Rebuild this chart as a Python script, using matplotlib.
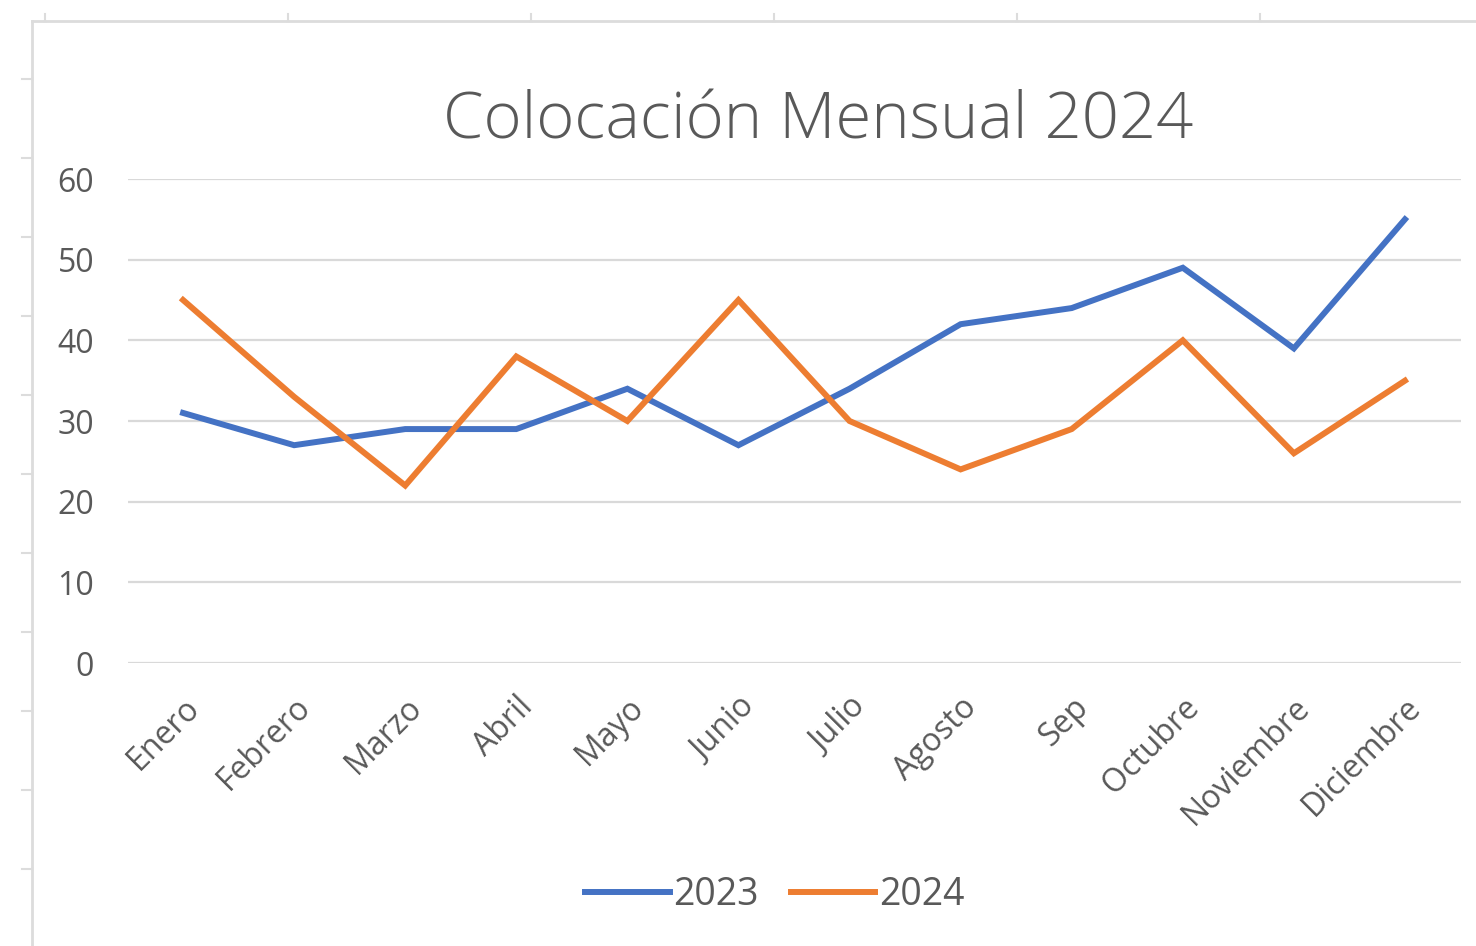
import matplotlib
matplotlib.use("Agg")
from matplotlib import pyplot as plt
from matplotlib.lines import Line2D

meses = ['Enero', 'Febrero', 'Marzo', 'Abril', 'Mayo', 'Junio', 'Julio',
         'Agosto', 'Sep', 'Octubre', 'Noviembre', 'Diciembre']
v2023 = [31, 27, 29, 29, 34, 27, 34, 42, 44, 49, 39, 55]
v2024 = [45, 33, 22, 38, 30, 45, 30, 24, 29, 40, 26, 35]
yticks = [0, 10, 20, 30, 40, 50, 60]

plt.rcParams['font.family'] = ['Open Sans', 'DejaVu Sans']
gris = '#595959'

fig = plt.figure(figsize=(14.76, 9.46), dpi=100)
W, H = 1476, 946

# marco de la hoja (captura de Excel)
fig.add_artist(Line2D([32 / W, 32 / W], [0, 1 - 21 / H], color='#dcdcdc', lw=2))
fig.add_artist(Line2D([32 / W, 1], [1 - 21 / H, 1 - 21 / H], color='#dcdcdc', lw=2))
for yy in range(79, 946, 79):
    fig.add_artist(Line2D([22 / W, 32 / W], [1 - yy / H, 1 - yy / H], color='#dcdcdc', lw=1.5))
for xx in range(45, 1476, 243):
    fig.add_artist(Line2D([xx / W, xx / W], [1 - 14 / H, 1 - 21 / H], color='#dcdcdc', lw=1.5))

ax = fig.add_axes([127.5 / W, 1 - 663 / H, (1460.5 - 127.5) / W, (663 - 179) / H])
x = range(len(meses))
ax.plot(x, v2023, color='#4472C4', lw=4.3, label='2023', solid_joinstyle='miter')
ax.plot(x, v2024, color='#ED7D31', lw=4.3, label='2024', solid_joinstyle='miter')

ax.set_xlim(-0.5, len(meses) - 0.5)
ax.set_ylim(0, 60)
ax.set_yticks(yticks)
ax.set_yticklabels([str(v) for v in yticks], fontsize=23, color=gris)
ax.set_xticks(list(x))
ax.set_xticklabels(meses, rotation=45, ha='right', rotation_mode='anchor',
                   fontsize=23, color=gris)
ax.tick_params(axis='both', length=0)
ax.tick_params(axis='y', pad=24)
ax.tick_params(axis='x', pad=20)
ax.grid(axis='y', color='#d9d9d9', lw=1.6)
ax.set_axisbelow(True)
for s in ax.spines.values():
    s.set_visible(False)

fig.text(818 / W, 1 - 122 / H, 'Colocación Mensual 2024', ha='center', va='center',
         fontsize=47, color=gris, fontweight='light')

fig.legend(loc='center', bbox_to_anchor=(775 / W, 1 - 895 / H), ncol=2, frameon=False,
           fontsize=27, handlelength=2.25, handletextpad=0.1, columnspacing=0.85,
           labelcolor=gris)

fig.savefig('out.png', dpi=100)
